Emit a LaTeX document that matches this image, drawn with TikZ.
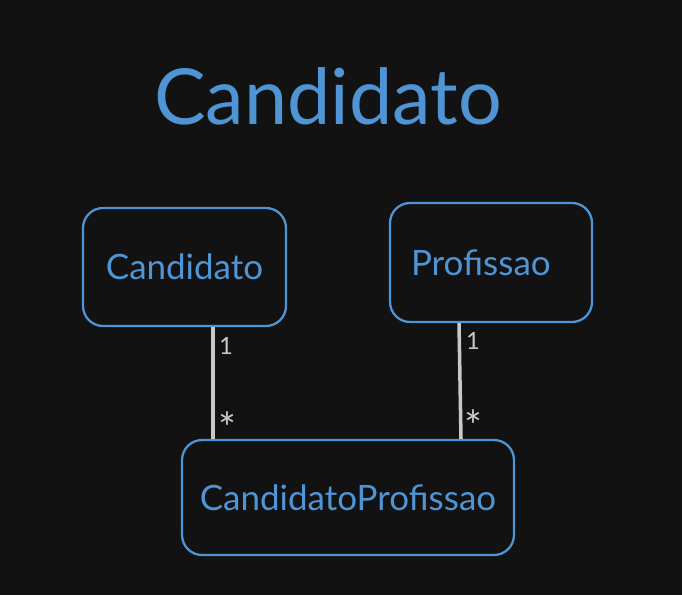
\documentclass[tikz,border=0pt]{standalone}
\usepackage{fontspec}
\setmainfont{Lato}
\definecolor{bgdark}{HTML}{121212}
\definecolor{umlblue}{HTML}{4F94D4}
\definecolor{linkgray}{HTML}{C8C8C8}
\tikzset{
	classbox/.style={rounded corners=20*0.02cm, draw=umlblue, line width=1.3pt, fill=bgdark, text=umlblue, font=\fontsize{19.9}{24}\selectfont},
	link/.style={draw=linkgray, line width=2pt},
	mult/.style={text=linkgray, font=\fontsize{13.5}{15}\selectfont, inner sep=0pt},
	star/.style={text=linkgray, font=\fontsize{24}{26}\selectfont, inner sep=0pt}
}
\begin{document}
\begin{tikzpicture}[x=0.02cm, y=-0.02cm]
			\fill[bgdark] (0,0) rectangle (682,595);
			\useasboundingbox (0,0) rectangle (682,595);
			\draw (328,96) node [text=umlblue, font=\fontsize{44}{52}\selectfont] (title) {Candidato};
			\draw (184.5,267) node [classbox, minimum width=4.06cm, minimum height=2.36cm] (v1) {Candidato};
			\draw (491,262.5) node [classbox, minimum width=4.04cm, minimum height=2.38cm, text width=3.6cm, align=left] (v2) {\hspace{0.2cm}Profissao};
			\draw (348,497.5) node [classbox, minimum width=6.64cm, minimum height=2.3cm] (v3) {CandidatoProfissao};
			\coordinate (a1) at (213,0);
			\coordinate (a2) at (459,0);
			\coordinate (a3) at (461,0);
			\path[link] (v1.south -| a1) edge (v3.north -| a1)
			(v2.south -| a2) edge (v3.north -| a3);
			\draw (226,346) node [mult] (m1) {1};
			\draw (227,428) node [star] (m2) {*};
			\draw (473,341) node [mult] (m3) {1};
			\draw (473,426) node [star] (m4) {*};
		\end{tikzpicture}
\end{document}
